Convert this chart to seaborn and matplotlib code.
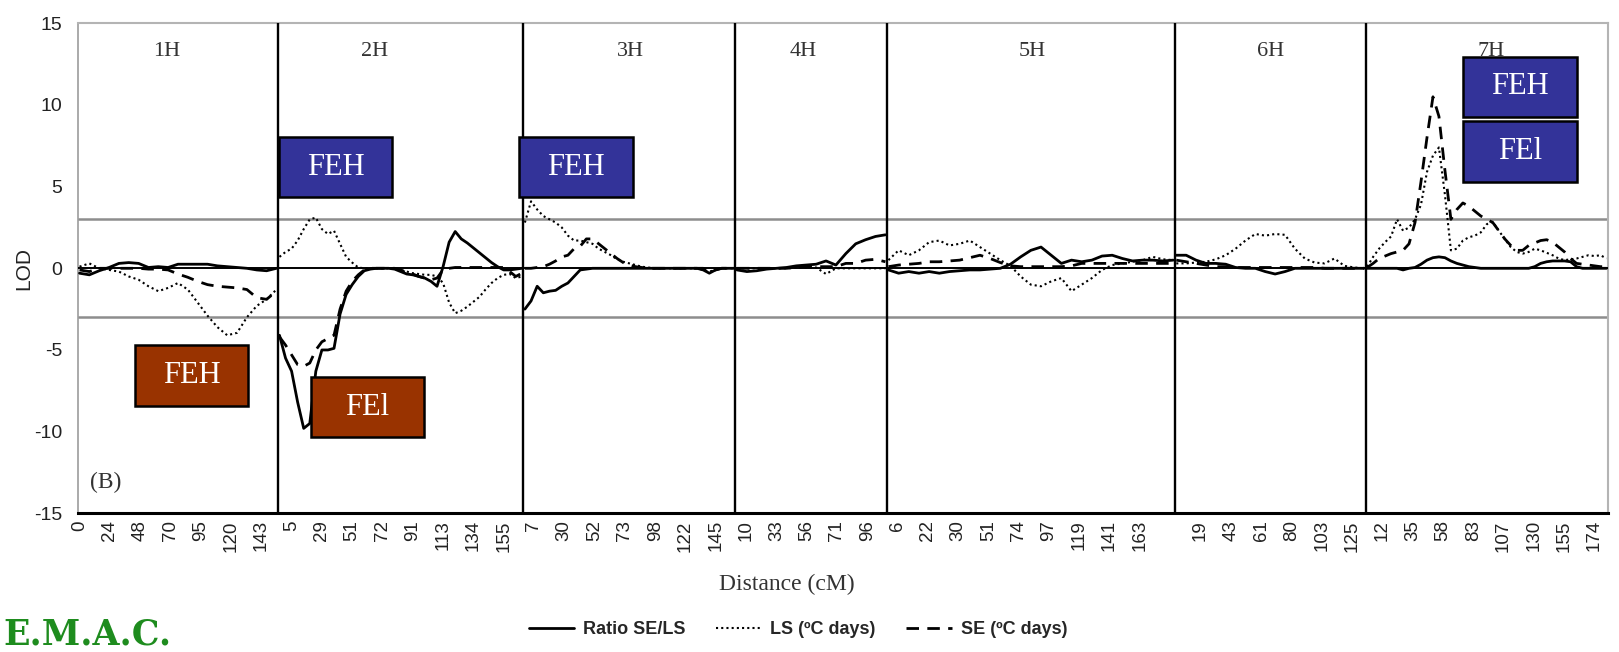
import numpy as np
import pandas as pd
import matplotlib
matplotlib.use("Agg")
import matplotlib.pyplot as plt
import seaborn as sns
from matplotlib.patches import Rectangle
from matplotlib.lines import Line2D

# ---------------- data ----------------
chromosomes = ["1H", "2H", "3H", "4H", "5H", "6H", "7H"]
# first / last marker (category) index of each chromosome on the x axis
chrom_first = [0, 66, 147, 217, 267, 362, 425]
chrom_last = [65, 146, 216, 266, 361, 424, 504]

# x tick labels (cM), one every 10 markers
tick_labels = ["0", "24", "48", "70", "95", "120", "143",
               "5", "29", "51", "72", "91", "113", "134", "155",
               "7", "30", "52", "73", "98", "122", "145",
               "10", "33", "56", "71", "96",
               "6", "22", "30", "51", "74", "97", "119", "141", "163",
               "", "19", "43", "61", "80", "103", "125",
               "12", "35", "58", "83", "107", "130", "155", "174"]

series_names = ["Ratio SE/LS", "LS (ºC days)", "SE (ºC days)"]

# LOD profiles, evenly spaced along each chromosome
ratio_1H = [-0.3, -0.4, -0.15, 0.05, 0.3, 0.35, 0.3, 0.05, 0.1, 0.05, 0.25, 0.25, 0.25, 0.25,
            0.15, 0.1, 0.05, 0.0, -0.1, -0.15, 0.0]
ls_1H = [0.1, 0.3, 0.0, -0.1, -0.2, -0.5, -0.7, -1.1, -1.4, -1.2, -0.9, -1.3, -2.1, -2.9,
         -3.6, -4.1, -3.95, -3.0, -2.3, -1.9, -1.3]
se_1H = [-0.1, -0.2, 0.0, 0.0, 0.0, 0.0, 0.0, -0.05, -0.05, -0.1, -0.35, -0.55, -0.8, -1.0,
         -1.1, -1.15, -1.2, -1.3, -1.8, -1.9, -1.4]

ratio_2H = [-4.1, -5.5, -6.3, -8.2, -9.8, -9.5, -6.3, -5.0, -5.0, -4.9, -2.8, -1.6, -1.0, -0.5,
            -0.15, -0.05, 0.0, 0.0, 0.0, -0.05, -0.2, -0.35, -0.4, -0.5, -0.6, -0.8, -1.1, 0.1,
            1.6, 2.25, 1.8, 1.55, 1.25, 0.95, 0.65, 0.35, 0.1, -0.1, -0.1, -0.05, 0.0]
ls_2H = [0.7, 1.0, 1.2, 1.7, 2.4, 3.0, 3.1, 2.4, 2.1, 2.3, 1.5, 0.7, 0.35, 0.05, 0.0, 0.0, 0.0,
         0.0, 0.0, -0.05, -0.1, -0.2, -0.3, -0.35, -0.4, -0.4, -0.5, -0.9, -2.1, -2.75, -2.6,
         -2.35, -2.05, -1.75, -1.3, -0.9, -0.6, -0.4, -0.35, -0.6, -0.5]
se_2H = [-4.2, -4.7, -5.3, -5.9, -6.0, -5.8, -5.0, -4.5, -4.3, -4.1, -2.5, -1.4, -0.8, -0.4,
         -0.1, 0.0, 0.0, 0.0, 0.0, 0.0, -0.1, -0.3, -0.35, -0.5, -0.6, -0.7, -0.6, -0.1, 0.0,
         0.05, 0.05, 0.05, 0.05, 0.05, 0.05, 0.05, 0.05, 0.05, -0.2, -0.5, -0.3]

ratio_3H = [-2.5, -2.0, -1.1, -1.5, -1.4, -1.35, -1.1, -0.9, -0.5, -0.1, -0.05, 0.0, 0.0, 0.0,
            0.0, 0.0, 0.0, 0.0, 0.0, 0.0, 0.0, 0.0, 0.0, 0.0, 0.0, 0.0, 0.0, 0.0, 0.0, -0.1,
            -0.3, -0.1, 0.0, 0.0, 0.0]
ls_3H = [2.8, 4.1, 3.6, 3.2, 3.0, 2.8, 2.5, 2.0, 1.7, 1.7, 1.6, 1.5, 1.2, 1.0, 0.8, 0.55, 0.4,
         0.3, 0.2, 0.1, 0.05, 0.0, 0.0, 0.0, 0.0, 0.0, 0.0, 0.0, 0.0, -0.1, -0.2, -0.1, 0.0,
         0.0, 0.0]
se_3H = [0.0, 0.0, 0.05, 0.1, 0.25, 0.45, 0.7, 0.8, 1.2, 1.35, 1.8, 1.8, 1.5, 1.2, 0.9, 0.6,
         0.35, 0.2, 0.1, 0.05, 0.0, 0.0, 0.0, 0.0, 0.0, 0.0, 0.0, 0.0, 0.0, 0.0, -0.15, -0.1,
         0.0, 0.0, 0.0]

ratio_4H = [-0.1, -0.2, -0.15, -0.05, 0.0, 0.05, 0.15, 0.2, 0.25, 0.45, 0.2, 0.9, 1.5, 1.75,
            1.95, 2.05]
ls_4H = [0.0, 0.0, 0.0, 0.0, 0.0, 0.0, 0.05, 0.05, 0.05, -0.35, 0.0, 0.0, 0.0, 0.0, 0.0, 0.0]
se_4H = [0.0, 0.0, 0.0, 0.0, 0.0, 0.0, 0.05, 0.1, 0.1, 0.1, 0.1, 0.3, 0.3, 0.5, 0.55, 0.4]

ratio_5H = [-0.1, -0.3, -0.2, -0.3, -0.2, -0.3, -0.2, -0.15, -0.1, -0.1, -0.05, 0.0, 0.25,
            0.7, 1.1, 1.3, 0.8, 0.3, 0.5, 0.4, 0.5, 0.75, 0.8, 0.6, 0.45, 0.5, 0.5, 0.45, 0.5]
ls_5H = [0.5, 1.1, 0.8, 1.1, 1.6, 1.7, 1.4, 1.5, 1.7, 1.3, 0.9, 0.5, 0.15, -0.5, -1.0, -1.1,
         -0.8, -0.6, -1.4, -1.0, -0.6, -0.1, 0.2, 0.3, 0.4, 0.5, 0.7, 0.55, 0.5]
se_5H = [0.1, 0.2, 0.25, 0.3, 0.4, 0.4, 0.45, 0.5, 0.65, 0.8, 0.6, 0.35, 0.15, 0.1, 0.1, 0.1,
         0.1, 0.1, 0.15, 0.3, 0.3, 0.3, 0.3, 0.3, 0.3, 0.3, 0.3, 0.3, 0.3]

ratio_6H = [0.8, 0.8, 0.5, 0.3, 0.3, 0.25, 0.05, 0.0, 0.0, -0.2, -0.35, -0.2, 0.0, 0.0, 0.0,
            0.0, 0.0, 0.0, 0.0, 0.0]
ls_6H = [0.3, 0.3, 0.35, 0.4, 0.55, 0.8, 1.2, 1.7, 2.1, 2.0, 2.1, 2.05, 1.2, 0.6, 0.35, 0.3,
         0.6, 0.15, 0.05, 0.0]
se_6H = [0.5, 0.4, 0.3, 0.2, 0.1, 0.1, 0.05, 0.05, 0.05, 0.05, 0.05, 0.05, 0.05, 0.05, 0.05,
         0.0, 0.0, 0.0, 0.0, 0.0]

ratio_7H = [0.0, 0.0, 0.0, 0.0, 0.0, 0.0, -0.1, 0.0, 0.05, 0.25, 0.5, 0.65, 0.7, 0.65, 0.45,
            0.3, 0.2, 0.1, 0.05, 0.0, 0.0, 0.0, 0.0, 0.0, 0.0, 0.0, 0.0, 0.0, 0.1, 0.3, 0.4,
            0.45, 0.45, 0.45, 0.4, 0.1, 0.0, 0.0, 0.0, 0.0, 0.0]
ls_7H = [0.1, 0.7, 1.2, 1.6, 1.95, 3.0, 2.3, 2.5, 3.0, 3.9, 5.9, 6.9, 7.4, 4.5, 1.1, 1.2, 1.7,
         1.9, 2.0, 2.2, 2.7, 2.85, 2.3, 1.8, 1.3, 1.0, 0.9, 1.0, 1.2, 1.1, 0.95, 0.8, 0.6, 0.5,
         0.55, 0.6, 0.7, 0.8, 0.75, 0.8, 0.6]
se_7H = [0.05, 0.3, 0.6, 0.75, 0.9, 1.0, 1.1, 1.5, 2.8, 5.3, 8.0, 10.5, 9.3, 6.0, 3.0, 3.6,
         4.0, 3.8, 3.5, 3.2, 3.0, 2.8, 2.3, 1.8, 1.4, 1.1, 1.1, 1.4, 1.55, 1.7, 1.75, 1.6, 1.3,
         1.0, 0.6, 0.3, 0.25, 0.2, 0.15, 0.1, 0.1]

ratio_all = [ratio_1H, ratio_2H, ratio_3H, ratio_4H, ratio_5H, ratio_6H, ratio_7H]
ls_all = [ls_1H, ls_2H, ls_3H, ls_4H, ls_5H, ls_6H, ls_7H]
se_all = [se_1H, se_2H, se_3H, se_4H, se_5H, se_6H, se_7H]

LOD_THRESHOLD = 3.0

# ---------------- build long table ----------------
rows = []
for name, profiles in zip(series_names, [ratio_all, ls_all, se_all]):
    for chrom, first, last, vals in zip(chromosomes, chrom_first, chrom_last, profiles):
        xs = np.linspace(first, last, len(vals))
        for x, v in zip(xs, vals):
            rows.append({"series": name, "chrom": chrom, "marker": x, "LOD": v})
df = pd.DataFrame(rows)

# ---------------- figure ----------------
sns.set_theme(style="white")
plt.rcParams["font.family"] = ["Liberation Sans", "DejaVu Sans"]
plt.rcParams["axes.unicode_minus"] = False

W, H = 1619, 652
fig = plt.figure(figsize=(W / 100, H / 100), dpi=100)
ax = fig.add_axes([78 / W, (H - 513.3) / H, 1530 / W, 490 / H])

styles = {
    series_names[0]: dict(lw=2.0, linestyle="-"),
    series_names[1]: dict(lw=1.5, linestyle=(0, (1, 1.5))),
    series_names[2]: dict(lw=2.0, linestyle=(0, (4.5, 3))),
}
for name in series_names:
    sns.lineplot(data=df[df["series"] == name], x="marker", y="LOD", units="chrom",
                 estimator=None, color="black", ax=ax, legend=False, zorder=4,
                 **styles[name])

# reference lines
ax.axhline(LOD_THRESHOLD, color="#8d8d8d", lw=1.8, zorder=1)
ax.axhline(-LOD_THRESHOLD, color="#8d8d8d", lw=1.8, zorder=1)
ax.axhline(0, color="black", lw=1.4, zorder=3)
for last in chrom_last[:-1]:
    ax.axvline(last + 0.5, color="black", lw=1.7, zorder=3)

ax.set_xlim(-0.5, chrom_last[-1] + 0.5)
ax.set_ylim(-15, 15)
ax.set_yticks(np.arange(-15, 16, 5))
ax.set_xticks(np.arange(0, 10 * len(tick_labels), 10))
ax.set_xticklabels(tick_labels)
ax.tick_params(axis="x", length=0, pad=5, labelsize=13.5, labelrotation=90, colors="#222222")
ax.tick_params(axis="y", length=0, pad=11.5, labelsize=14, colors="#222222")

for side in ["top", "right"]:
    ax.spines[side].set_color("#b4b4b4")
    ax.spines[side].set_linewidth(1.5)
ax.spines["left"].set_color("#9c9c9c")
ax.spines["left"].set_linewidth(1.2)
ax.spines["bottom"].set_color("black")
ax.spines["bottom"].set_linewidth(2.2)
ax.grid(False)

ax.set_ylabel("LOD", fontsize=15, color="#222222")
ax.yaxis.set_label_coords(-0.0294, 0.5)
ax.set_xlabel("Distance (cM)", fontsize=17, family="Liberation Serif", color="#333333")
ax.xaxis.set_label_coords(0.4634, -0.124)

# chromosome names
chrom_label_x = [28.7, 97.4, 182, 239, 314.5, 393, 466]
for name, xc in zip(chromosomes, chrom_label_x):
    ax.text(xc, 13.25, name, ha="center", va="center", fontsize=16,
            family="Liberation Serif", color="#333333", zorder=2)
ax.text(8.6, -13.1, "(B)", ha="center", va="center", fontsize=17,
        family="Liberation Serif", color="#333333")

# QTL annotation boxes
blue, brown = "#333399", "#993300"
boxes = [
    ("FEH", blue, 65.84, 103.14, 4.35, 8.04),
    ("FEH", blue, 145.06, 182.68, 4.35, 8.04),
    ("FEH", brown, 18.31, 55.61, -8.43, -4.70),
    ("FEl", brown, 76.4, 113.7, -10.33, -6.66),
    ("FEH", blue, 456.6, 494.3, 9.26, 12.94),
    ("FEl", blue, 456.6, 494.3, 5.28, 9.02),
]
for label, col, x0, x1, y0, y1 in boxes:
    ax.add_patch(Rectangle((x0, y0), x1 - x0, y1 - y0, facecolor=col, edgecolor="black",
                           lw=1.8, zorder=6))
    ax.text((x0 + x1) / 2, (y0 + y1) / 2, label, ha="center", va="center", color="white",
            fontsize=22, family="Liberation Serif", zorder=7)

# legend
handles = [Line2D([], [], color="black", **styles[n]) for n in series_names]
fig.legend(handles, series_names, loc="center", bbox_to_anchor=(798 / W, 1 - 630 / H),
           ncol=3, frameon=False, handlelength=2.5, handletextpad=0.5, columnspacing=1.7,
           prop={"family": "Liberation Sans", "weight": "bold", "size": 13})

fig.text(0.002, 0.012, "E.M.A.C.", ha="left", va="baseline", fontsize=25,
         family="DejaVu Serif", weight="bold", color="#1e8c1e")

fig.savefig("out.png", dpi=100)
